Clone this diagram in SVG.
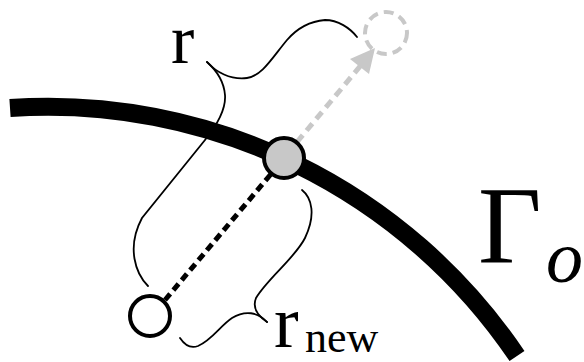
<svg xmlns="http://www.w3.org/2000/svg" width="584" height="362" viewBox="0 0 584 362">
<style>
.brace{fill:none;stroke:#000;stroke-width:1.8;stroke-linecap:round}
.lbl{font-family:"Liberation Serif","DejaVu Serif",serif;fill:#000}
.node{stroke-width:4}
</style>
<rect width="584" height="362" fill="#fff"/>
<g id="boundary">
<path d="M10,108 A566,566 0 0 1 517,356" fill="none" stroke="#000" stroke-width="18"/>
</g>
<g id="connectors">
<line x1="165" y1="300" x2="271" y2="174" stroke="#000" stroke-width="5" stroke-dasharray="8 5"/>
<line x1="297" y1="142" x2="362" y2="64" stroke="#c8c8c8" stroke-width="5" stroke-dasharray="9 6"/>
<polygon points="375,48 350,59 369,74" fill="#c8c8c8"/>
<path class="brace" d="M148,286 C136,274 126,248 142,218 L205,140 C218,124 226,108 225,95 C224,82 216,70 207,62"/>
<path class="brace" d="M207,62 C216,72 230,80 247,78 C262,76 272,58 287,40 C300,25 313,21 325,20 C338,20 350,28 357,37"/>
<path class="brace" d="M302,190 C312,198 316,215 305,238 C295,258 268,278 256,298 C252,308 258,316 267,322"/>
<path class="brace" d="M267,322 C258,312 245,310 232,318 C220,326 212,340 198,346 C190,349 184,344 180,338"/>
</g>
<g id="node-new">
<circle class="node" cx="386" cy="33" r="21" fill="none" stroke="#c8c8c8" stroke-dasharray="10 6"/>
</g>
<g id="node-current">
<circle class="node" cx="284" cy="158" r="20" fill="#c8c8c8" stroke="#000"/>
</g>
<g id="node-start">
<circle class="node" cx="150" cy="316" r="20" fill="#fff" stroke="#000"/>
</g>
<g id="labels">
<text class="lbl" x="171" y="63" font-size="70">r</text>
<text class="lbl" x="274" y="347" font-size="74">r</text>
<text class="lbl" x="305" y="352" font-size="44">new</text>
<text class="lbl" x="478" y="263" font-size="110">Γ</text>
<text class="lbl" x="546" y="282" font-size="74" font-style="italic">o</text>
</g>
</svg>
